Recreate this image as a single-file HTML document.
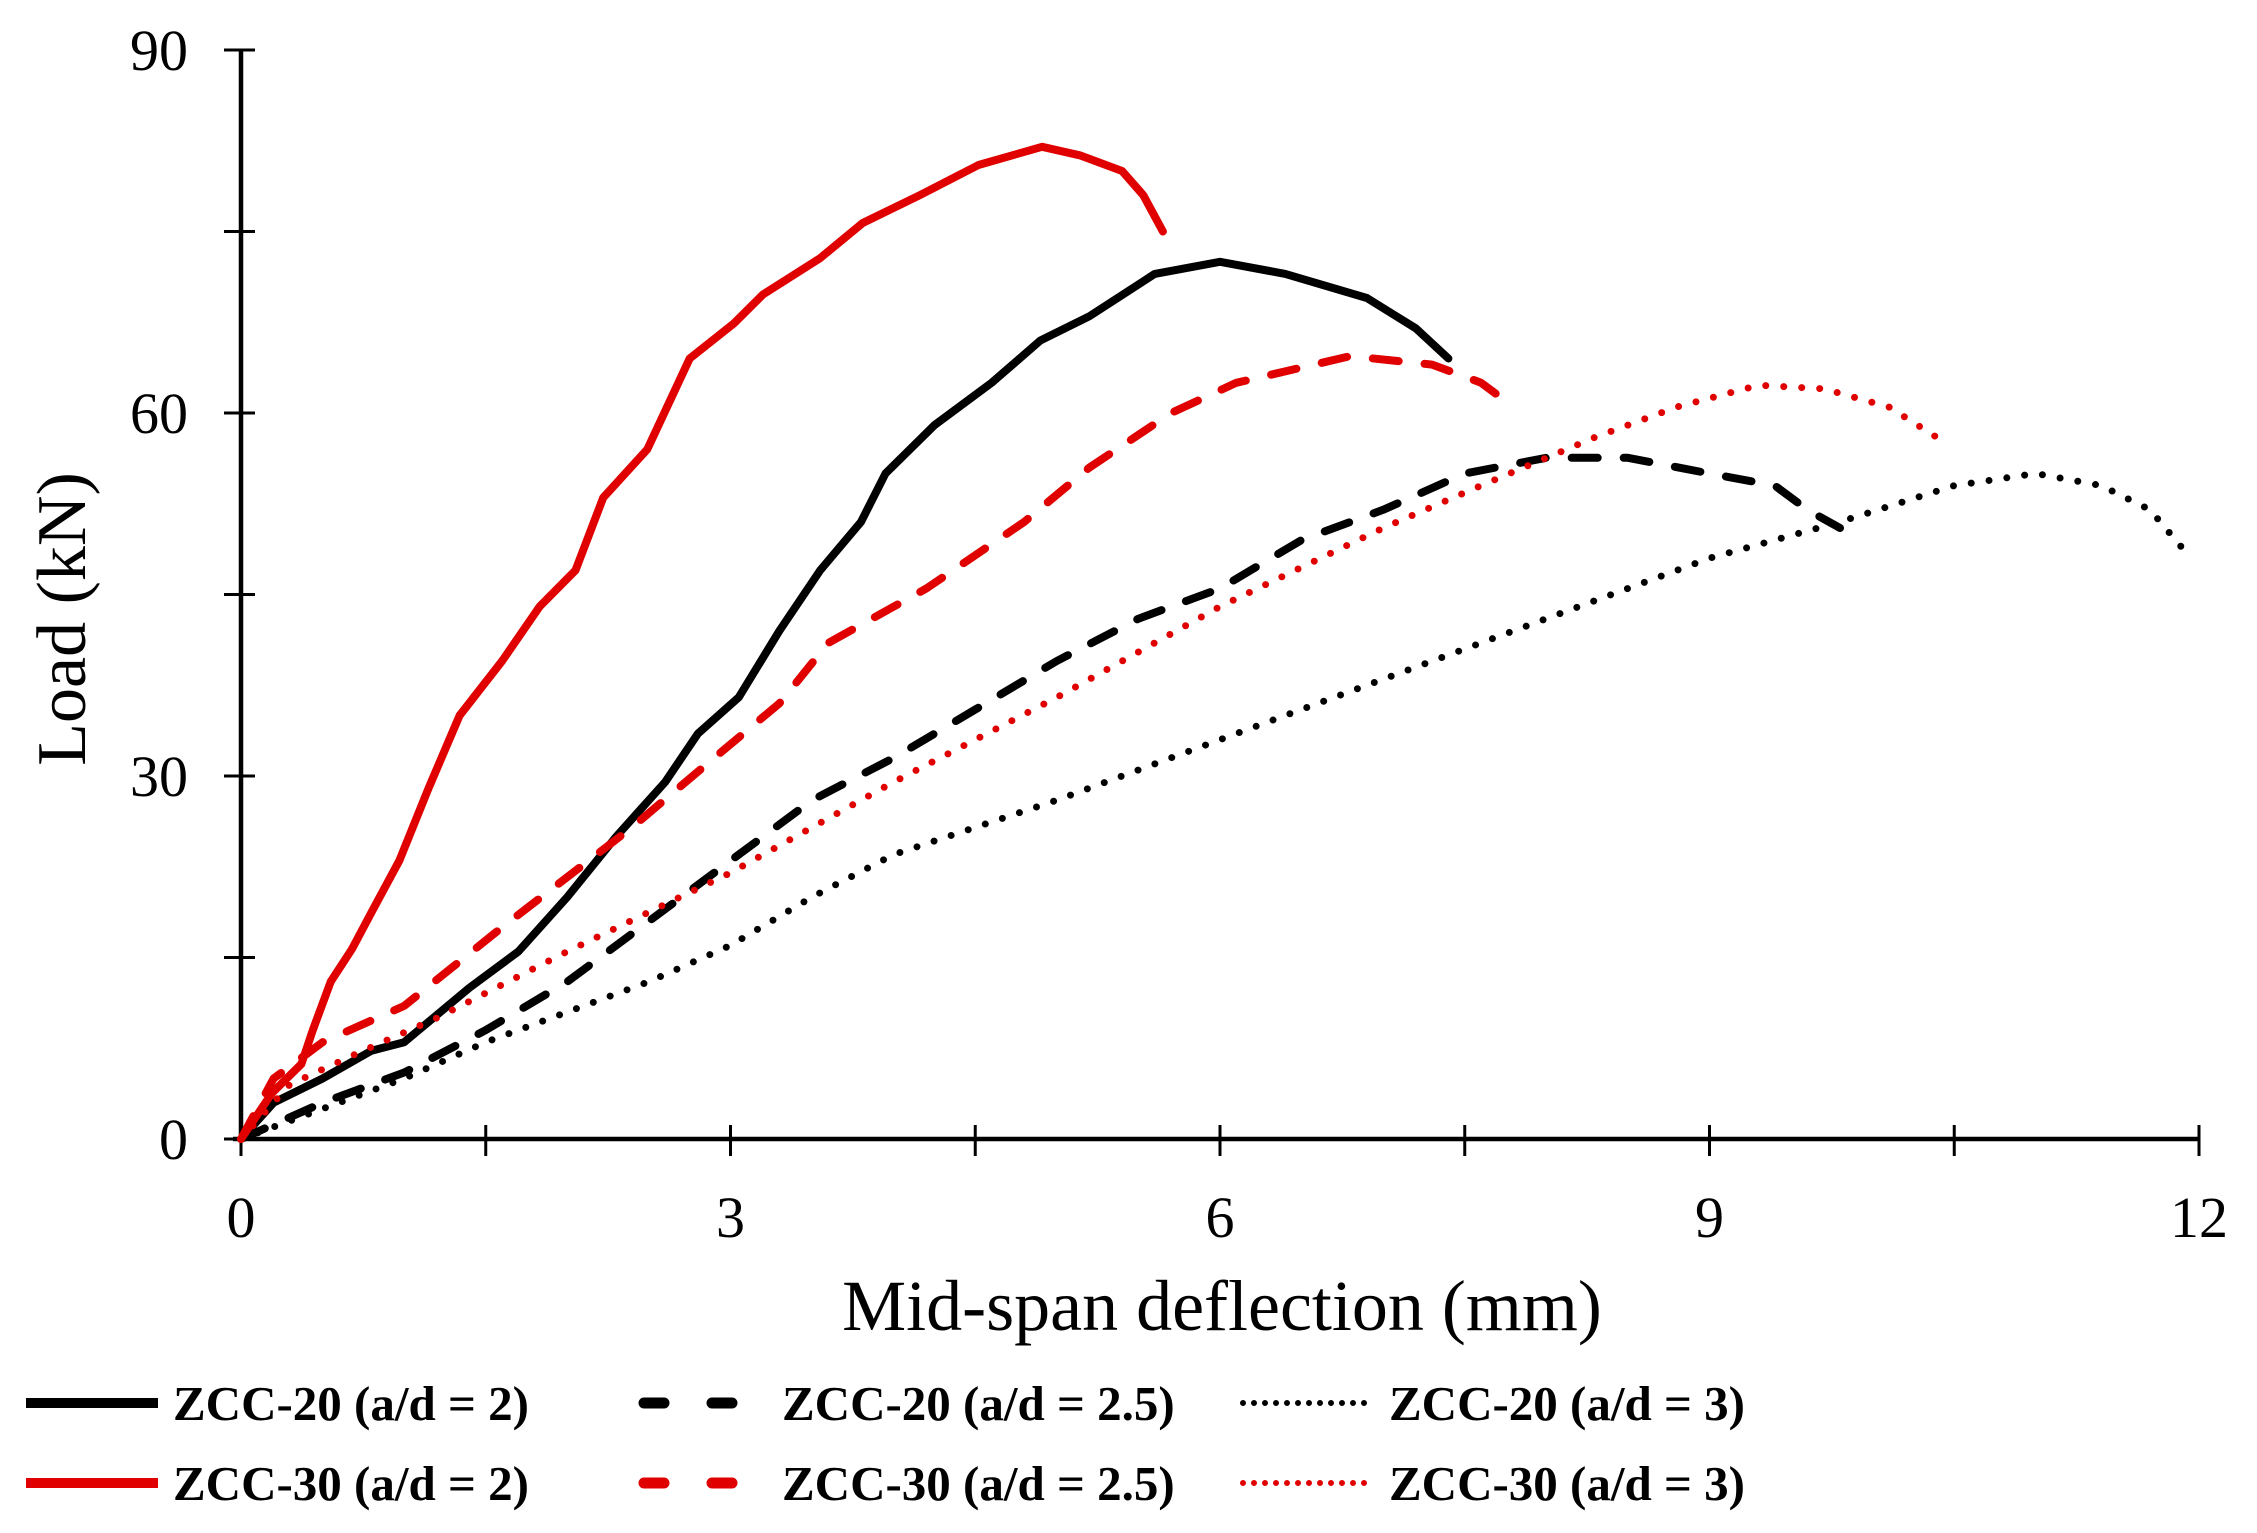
<!DOCTYPE html>
<html><head><meta charset="utf-8"><style>
html,body{margin:0;padding:0;background:#fff}
svg{display:block}
text{font-family:"Liberation Serif",serif;fill:#000}
</style></head><body>
<svg id="chart" width="2257" height="1533" viewBox="0 0 2257 1533" xmlns="http://www.w3.org/2000/svg">
<g id="axes"></g>
<g id="series"></g>
<text x="69" y="619" font-size="70" text-anchor="middle" transform="rotate(-90 69 619)" dominant-baseline="middle">Load (kN)</text>
<text x="1222" y="1330" font-size="72" text-anchor="middle">Mid-span deflection (mm)</text>
<g id="legend"></g>
</svg>
<script>
const xTicks=[0,3,6,9,12];
const xMinor=[0,1.5,3,4.5,6,7.5,9,10.5,12];
const yTicks=[0,30,60,90];
const yMinor=[0,15,30,45,60,75,90];
const seriesNames=["ZCC-20 (a/d = 2)","ZCC-20 (a/d = 2.5)","ZCC-20 (a/d = 3)","ZCC-30 (a/d = 2)","ZCC-30 (a/d = 2.5)","ZCC-30 (a/d = 3)"];
const s20a2x=[0,0.2,0.5,0.8,1,1.4,1.7,2,2.3,2.6,2.8,3.05,3.3,3.55,3.8,3.95,4.25,4.6,4.9,5.2,5.6,6,6.4,6.9,7.2,7.4];
const s20a2y=[0,3,5,7.3,8,12.5,15.5,20,25,29.5,33.5,36.5,42,47,51,55,59,62.5,66,68,71.5,72.5,71.5,69.5,67,64.5];
const s20a25x=[0,0.5,1,1.5,2,2.5,3,3.5,4,4.5,5,5.5,6,6.5,7,7.5,8,8.5,9,9.4,9.6,9.8];
const s20a25y=[0,3,5.5,9,13,18,23,28,31.5,35.5,39.5,43,45.5,49.5,52,55,56.3,56.3,55,54,52,50.5];
const s20a3x=[0,0.5,1,1.5,2,2.5,3,3.5,4,5,6,7,8,9,9.8,10.5,11,11.4,11.7,11.95];
const s20a3y=[0,2.5,5,8,10.5,13,16,20,23.5,28,33,38,43,48,51,54,55,54,52,48];
const s30a2x=[0,0.19,0.37,0.44,0.55,0.68,0.81,0.97,1.15,1.34,1.6,1.83,2.05,2.22,2.49,2.75,3.02,3.2,3.55,3.81,4.16,4.52,4.91,5.14,5.4,5.53,5.65];
const s30a2y=[0,3.8,6.2,9,13,15.7,19,23,29,35,39.5,44,47,53,57,64.5,67.4,69.8,72.8,75.7,78,80.5,82,81.3,80,78,75];
const s30a25x=[0,0.2,0.5,1,1.6,2.4,2.9,3.3,3.6,4.2,4.8,5.2,5.7,6.1,6.8,7.3,7.6,7.8];
const s30a25y=[0,5,8,11,17.5,25.8,31.5,36,41,45.5,51,55.5,60,62.5,64.7,64,62.5,60.5];
const s30a3x=[0,0.3,0.7,1.2,2,3,4,5,6,7,7.6,8.3,8.8,9.3,9.7,10.1,10.45];
const s30a3y=[0,4.5,7,10,15.5,22,29.5,36.5,44,50.5,54,58,60.5,62.3,62,60.5,57.5];

const X0=241,X1=2199,Y0=1139,Y1=50;
const sx=v=>X0+(X1-X0)*v/12;
const sy=v=>Y0-(Y0-Y1)*v/90;
const NS="http://www.w3.org/2000/svg";
function mk(tag,attrs,parent){const e=document.createElementNS(NS,tag);for(const k in attrs)e.setAttribute(k,attrs[k]);parent.appendChild(e);return e;}
const axes=document.getElementById('axes');
let e;
e=mk('line',{x1:X0,y1:Y1,x2:X0,y2:Y0,stroke:'#000','stroke-width':4.5},axes);


e=mk('line',{x1:X0-8,y1:Y0,x2:X1,y2:Y0,stroke:'#000','stroke-width':4.5},axes);


yMinor.forEach(v=>{const t=mk('line',{x1:X0-17,x2:X0+14,y1:sy(v),y2:sy(v),stroke:'#000','stroke-width':3},axes);

});
xMinor.forEach(v=>{const t=mk('line',{x1:sx(v),x2:sx(v),y1:Y0-14,y2:Y0+17,stroke:'#000','stroke-width':3},axes);

});
yTicks.forEach(v=>{const t=mk('text',{x:188,y:sy(v)+20,'font-size':58,'text-anchor':'end'},axes);t.textContent=v;

});
xTicks.forEach(v=>{const t=mk('text',{x:sx(v),y:1237,'font-size':58,'text-anchor':'middle'},axes);t.textContent=v;

});

const styles={
 solid:{w:8,dash:null,cap:'round'},
 dash:{w:8,dash:'26 26',cap:'round'},
 dot:{w:7,dash:'0 18',cap:'round'}
};
const list=[[s20a2x,s20a2y,'#000','solid','series-zcc20-ad2'],[s20a25x,s20a25y,'#000','dash','series-zcc20-ad2-5'],[s20a3x,s20a3y,'#000','dot','series-zcc20-ad3'],
[s30a2x,s30a2y,'#e00000','solid','series-zcc30-ad2'],[s30a25x,s30a25y,'#e00000','dash','series-zcc30-ad2-5'],[s30a3x,s30a3y,'#e00000','dot','series-zcc30-ad3']];
const sg=document.getElementById('series');
list.forEach(([xs,ys,c,st,n])=>{
 const d=xs.map((x,i)=>(i?'L':'M')+sx(x).toFixed(1)+','+sy(ys[i]).toFixed(1)).join(' ');
 const s=styles[st];
 const p=mk('path',{d:d,fill:'none',stroke:c,'stroke-width':s.w,'stroke-linecap':s.cap,'stroke-linejoin':'round'},sg);
 if(s.dash)p.setAttribute('stroke-dasharray',s.dash);
 
 
});
const lg=document.getElementById('legend');
const cols=[[26,158,173],[636,741,782],[1243,1365,1389]];
const rows=[1403,1483];
list.forEach(([xs,ys,c,st,n],i)=>{
 const r=Math.floor(i/3),k=i%3;const s=styles[st];
 const g=mk('g',{},lg);
 
 
 const l=mk('line',{x1:cols[k][0]+(st==='dash'?8:0),x2:cols[k][1],y1:rows[r],y2:rows[r],stroke:c,'stroke-width':st==='solid'?10:(st==='dash'?11:6),'stroke-linecap':st==='solid'?'butt':'round'},g);
 if(st==='dash')l.setAttribute('stroke-dasharray','20 48');
 if(st==='dot')l.setAttribute('stroke-dasharray','0 11');
 
 
 const t=mk('text',{x:cols[k][2],y:rows[r]+17,'font-size':49,'font-weight':'bold'},g);
 t.textContent=seriesNames[i];
 
 
});
</script>
</body></html>
